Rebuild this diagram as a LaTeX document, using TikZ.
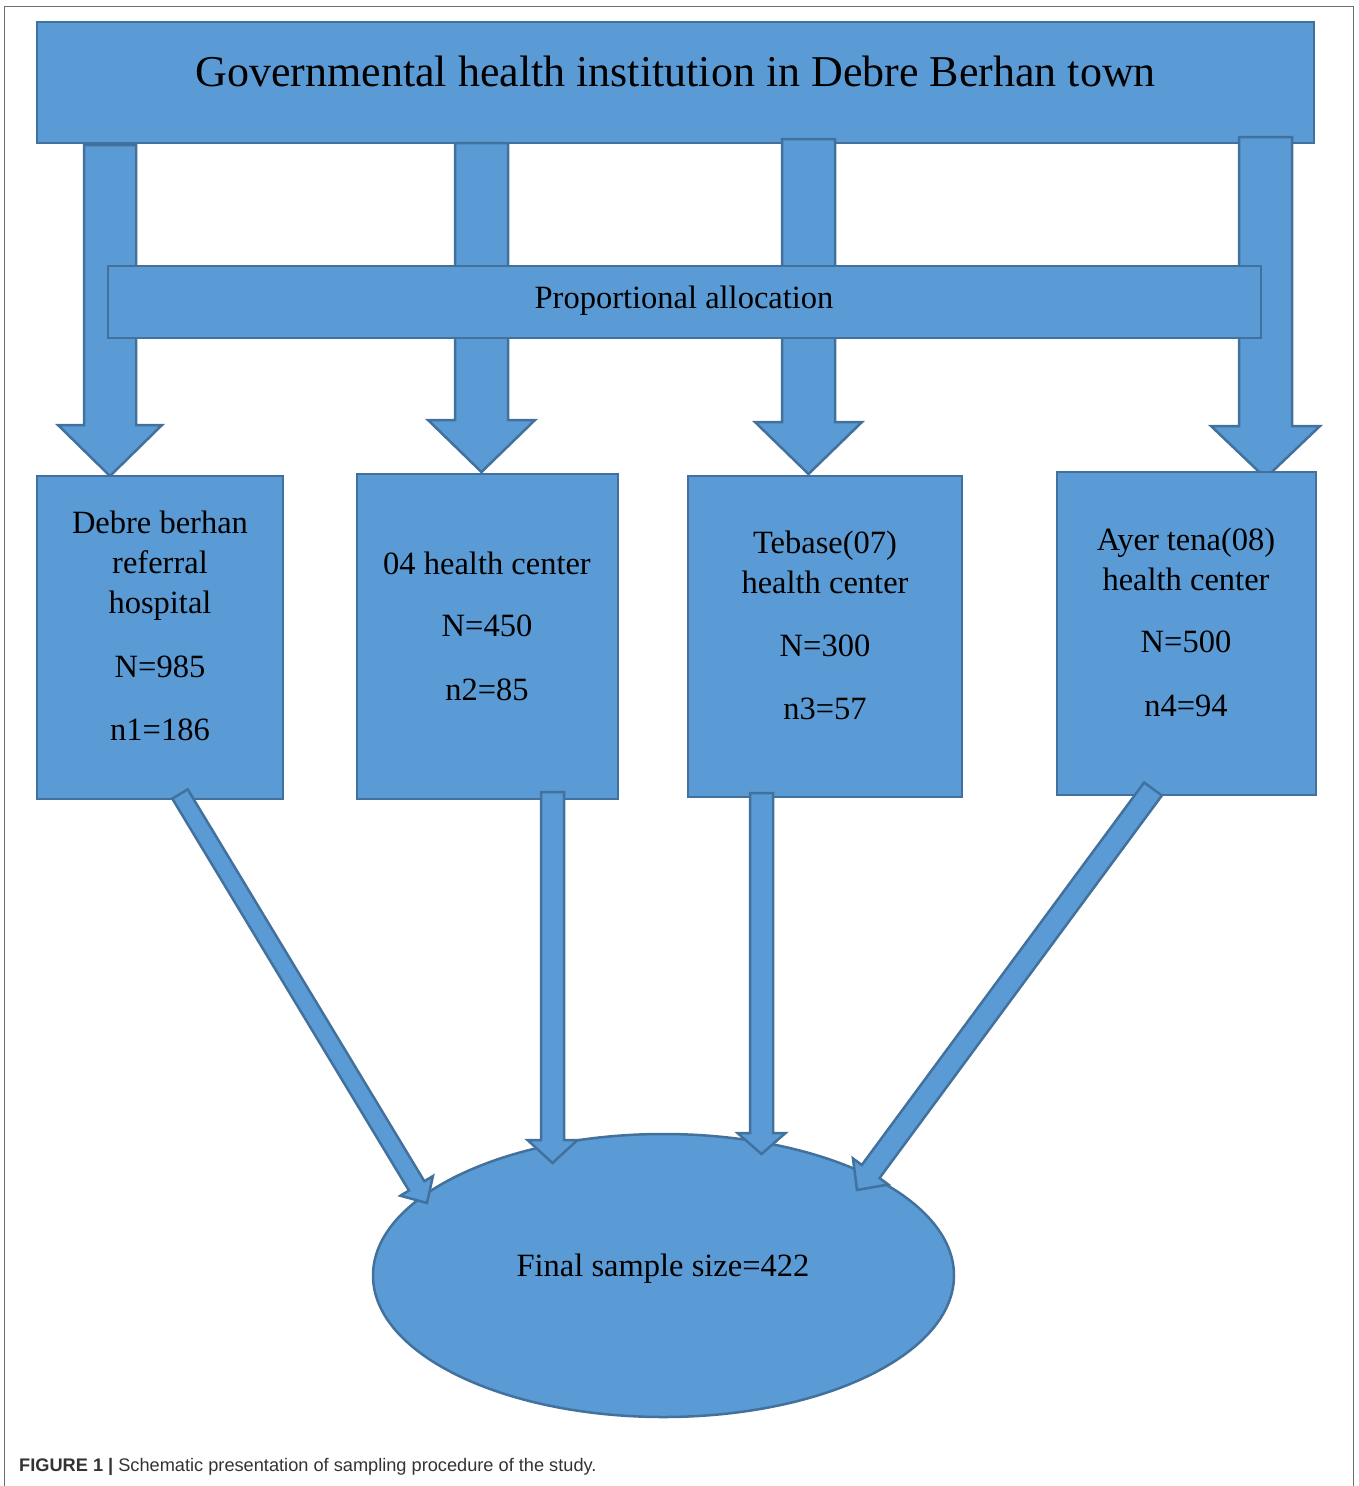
\documentclass[tikz,border=0pt]{standalone}
\usepackage{fontspec}
\setmainfont{Liberation Serif}
\newfontfamily\capfont{Liberation Sans}
\usetikzlibrary{calc}
\definecolor{boxfill}{HTML}{5B9BD5}
\definecolor{boxline}{HTML}{41719C}
\definecolor{framegray}{HTML}{6E6E6E}
\definecolor{captext}{HTML}{333333}
\tikzset{
  shapebox/.style={draw=boxline, fill=boxfill, line width=2.5pt, inner sep=0pt, rectangle},
  blockarrow/.style={draw=boxline, fill=boxfill, line width=2.5pt, line join=miter},
  bigtxt/.style={font=\fontsize{44}{52}\selectfont, inner sep=0pt, anchor=base},
  txt/.style={font=\fontsize{32.5}{39}\selectfont, inner sep=0pt, anchor=base},
}
% #1 start, #2 end, #3 half shaft, #4 half head, #5 head length, #6 name
\newcommand\blkarrow[6]{%
  \coordinate (#6-hb) at ($(#2)!#5!(#1)$);
  \draw[blockarrow] ($(#1)!#3!90:(#2)$) -- ($(#6-hb)!#3!90:(#2)$) -- ($(#6-hb)!#4!90:(#2)$)
    -- (#2) -- ($(#6-hb)!#4!-90:(#2)$) -- ($(#6-hb)!#3!-90:(#2)$) -- ($(#1)!#3!-90:(#2)$) -- cycle;
}
\begin{document}
\begin{tikzpicture}[x=1pt, y=-1pt]
\useasboundingbox (0,0) rectangle (1359,1486);
\fill[white] (0,0) rectangle (1359,1486);
% frame
\draw[framegray, line width=1.8pt] (4.5,1486) -- (4.5,6.5) -- (1353.5,6.5) -- (1353.5,1486);

% title box
\node[shapebox, minimum width=1277pt, minimum height=121pt] (top) at (675.5,82.5) {};
\node[bigtxt] (toptxt) at (675.5,86) {Governmental health institution in Debre Berhan town};

% top arrows
\coordinate (t1s) at (110,145);   \coordinate (t1e) at (110,476);
\coordinate (t2s) at (481.5,143); \coordinate (t2e) at (481.5,472);
\coordinate (t3s) at (808.5,139); \coordinate (t3e) at (808.5,474);
\coordinate (t4s) at (1265.5,137);\coordinate (t4e) at (1265.5,478);
\blkarrow{t1s}{t1e}{26pt}{52pt}{51pt}{ta1}
\blkarrow{t2s}{t2e}{26.5pt}{53.5pt}{52pt}{ta2}
\blkarrow{t3s}{t3e}{26.5pt}{53.5pt}{52pt}{ta3}
\blkarrow{t4s}{t4e}{26.5pt}{54.5pt}{52pt}{ta4}

% proportional allocation box
\node[shapebox, minimum width=1153pt, minimum height=72pt] (prop) at (684.5,302) {};
\node[txt] (proptxt) at (684,308) {Proportional allocation};

% institution boxes
\node[shapebox, minimum width=246pt, minimum height=323pt] (b1) at (160,637.5) {};
\node[shapebox, minimum width=261pt, minimum height=325pt] (b2) at (487.5,636.5) {};
\node[shapebox, minimum width=274pt, minimum height=321pt] (b3) at (825,636.5) {};
\node[shapebox, minimum width=259pt, minimum height=323pt] (b4) at (1186.5,633.5) {};

\node[txt] (b1a) at (160,533) {Debre berhan};
\node[txt] (b1b) at (160,573) {referral};
\node[txt] (b1c) at (160,613) {hospital};
\node[txt] (b1d) at (160,677) {N=985};
\node[txt] (b1e) at (160,740) {n1=186};

\node[txt] (b2a) at (487,574) {04 health center};
\node[txt] (b2b) at (487,636) {N=450};
\node[txt] (b2c) at (487,700) {n2=85};

\node[txt] (b3a) at (825,553) {Tebase(07)};
\node[txt] (b3b) at (825,593) {health center};
\node[txt] (b3c) at (825,656) {N=300};
\node[txt] (b3d) at (825,719) {n3=57};

\node[txt] (b4a) at (1186,550) {Ayer tena(08)};
\node[txt] (b4b) at (1186,590) {health center};
\node[txt] (b4c) at (1186,652) {N=500};
\node[txt] (b4d) at (1186,716) {n4=94};

% final ellipse
\draw[draw=boxline, fill=boxfill, line width=2.5pt] (663.5,1275.5) ellipse (290.5 and 141.5);
\coordinate (fin) at (663.5,1275.5);
\node[txt] (fintxt) at (663,1276) {Final sample size=422};

% bottom arrows
\coordinate (u1s) at (180,794);   \coordinate (u1e) at (427,1203);
\coordinate (u2s) at (552.5,792); \coordinate (u2e) at (552.5,1163);
\coordinate (u3s) at (761.5,793); \coordinate (u3e) at (761.5,1154);
\coordinate (u4s) at (1153,789);  \coordinate (u4e) at (857,1190);
\blkarrow{u1s}{u1e}{9pt}{19pt}{20pt}{ua1}
\blkarrow{u2s}{u2e}{11.5pt}{25pt}{23pt}{ua2}
\blkarrow{u3s}{u3e}{11.5pt}{24pt}{21pt}{ua3}
\blkarrow{u4s}{u4e}{11pt}{22pt}{23pt}{ua4}

% caption
\node[font=\capfont\fontsize{18.2}{22}\selectfont, text=captext, anchor=base west, inner sep=0pt] (cap) at (19,1471)
  {\textbf{FIGURE 1} \textbf{|} Schematic presentation of sampling procedure of the study.};
\end{tikzpicture}
\end{document}
